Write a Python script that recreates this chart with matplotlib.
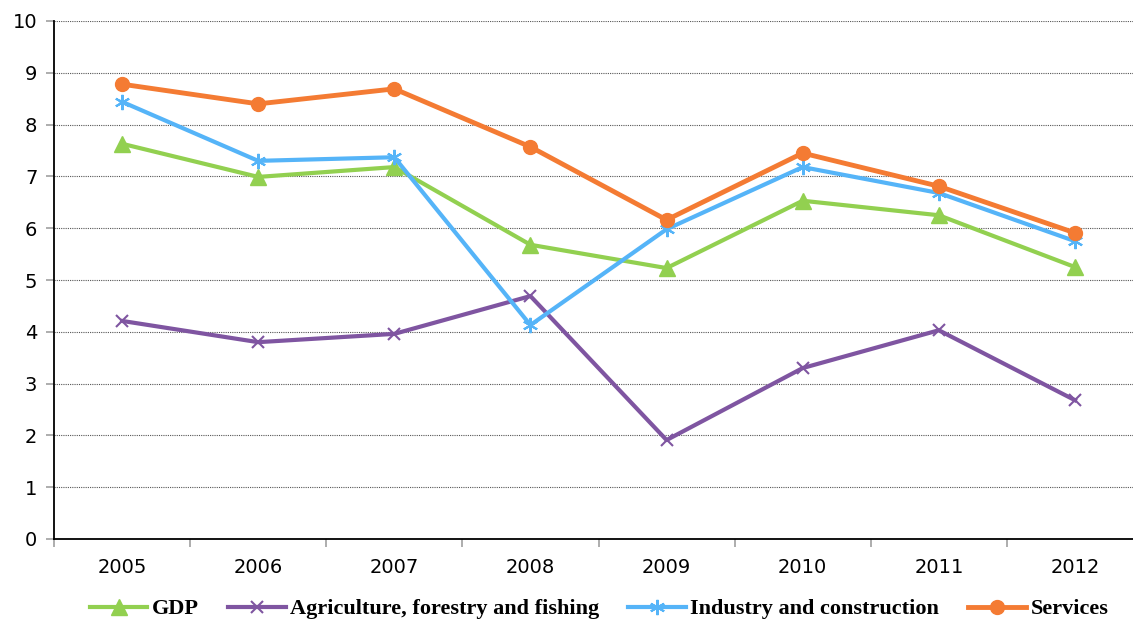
import matplotlib
matplotlib.use('Agg')
import matplotlib.pyplot as plt
from matplotlib.ticker import FixedLocator

years = ['2005', '2006', '2007', '2008', '2009', '2010', '2011', '2012']
gdp = [7.63, 6.99, 7.18, 5.68, 5.23, 6.53, 6.25, 5.25]
agriculture = [4.21, 3.80, 3.96, 4.69, 1.91, 3.30, 4.03, 2.68]
industry = [8.44, 7.30, 7.37, 4.13, 5.98, 7.18, 6.68, 5.75]
services = [8.78, 8.40, 8.69, 7.57, 6.16, 7.45, 6.81, 5.91]

fig = plt.figure(figsize=(11.33, 6.21), dpi=100)
ax = fig.add_axes([54/1133, 82/621, 1089/1133, 518/621])
x = range(len(years))

ax.plot(x, gdp, color='#92D050', lw=3, marker='^', ms=11, label='GDP', zorder=3)
ax.plot(x, agriculture, color='#7F55A1', lw=3, marker='x', ms=9, mew=1.5,
        label='Agriculture, forestry and fishing', zorder=3)
ax.plot(x, industry, color='#55B4F8', lw=3, marker=(6, 2, 0), ms=11, mew=1.5,
        label='Industry and construction', zorder=3)
ax.plot(x, services, color='#F47B33', lw=3.5, marker='o', ms=10,
        label='Services', zorder=4)

ax.set_xlim(-0.5, 7.5)
ax.set_ylim(0, 10)
ax.set_yticks(range(0, 11))
ax.set_xticks(list(x))
ax.set_xticklabels(years)
ax.xaxis.set_minor_locator(FixedLocator([i - 0.5 for i in range(9)]))
ax.tick_params(axis='x', which='major', length=0, labelsize=14, pad=14)
ax.tick_params(axis='x', which='minor', length=6, color='#a0a0a0', width=1.2)
ax.tick_params(axis='y', length=6, color='#a0a0a0', width=1.2, labelsize=14, pad=6)
ax.grid(axis='y', color='#555555', linestyle=(0, (1, 1)), linewidth=0.8, zorder=0)
for s in ['top', 'right']:
    ax.spines[s].set_visible(False)
ax.spines['left'].set_linewidth(1.3)
ax.spines['bottom'].set_linewidth(1.3)
ax.set_axisbelow(True)

handles, labels = ax.get_legend_handles_labels()
fig.legend(handles, labels, loc='center', bbox_to_anchor=(599/1133, 1 - 609/621), ncol=4,
           frameon=False, prop={'family': 'Liberation Serif', 'weight': 'bold', 'size': 16},
           handlelength=2.6, columnspacing=1.3, handletextpad=0.2, borderpad=0)

fig.savefig('out.png', dpi=100)
